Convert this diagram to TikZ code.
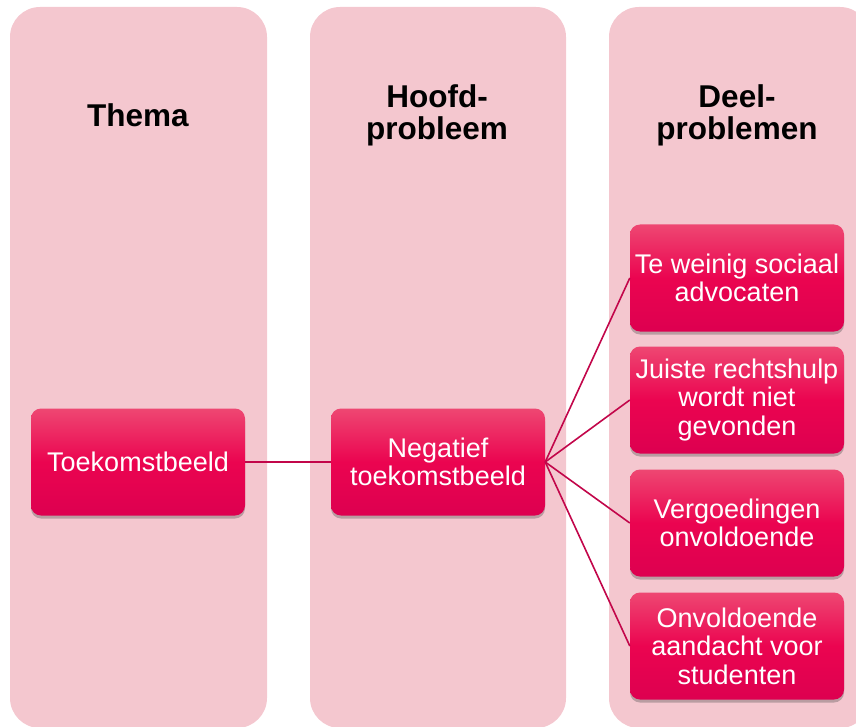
\documentclass[tikz,border=0pt]{standalone}
\usepackage{fontspec}
\setmainfont{Liberation Sans}
\usetikzlibrary{shadows}
\definecolor{colbg}{HTML}{F4C7CF}
\definecolor{boxtop}{HTML}{EE4772}
\definecolor{boxmid}{HTML}{EB0450}
\definecolor{boxbot}{HTML}{DD0050}
\definecolor{link}{HTML}{C2064A}
\begin{document}
\begin{tikzpicture}[x=1pt,y=-1pt,
  colbox/.style={fill=colbg,rounded corners=30pt},
  head/.style={font=\fontsize{31.5}{32}\selectfont\bfseries,align=center,text=black},
  itembox/.style={rounded corners=10pt,minimum width=214pt,minimum height=107pt,
    top color=boxtop,bottom color=boxbot,middle color=boxmid,
    text=white,align=center,inner sep=1pt,
    font=\fontsize{27}{28.5}\selectfont,
    drop shadow={shadow xshift=0pt,shadow yshift=-3pt,opacity=0.35,fill=black!70}},
  linkline/.style={draw=link,line width=1.6pt}]
\useasboundingbox (0,0) rectangle (856,727);
\begin{scope}
\clip (0,0) rectangle (856,727);
\fill[colbox] (10,7) rectangle (267,728);
\fill[colbox] (310,7) rectangle (566,728);
\fill[colbox] (609,7) rectangle (870,728);
\end{scope}
\node[head] (h1) at (138,115) {Thema};
\node[head] (h2) at (437,115) {Hoofd-\\probleem};
\node[head] (h3) at (737,115) {Deel-\\problemen};
\node[itembox] (a) at (138,462) {Toekomstbeeld};
\node[itembox] (b) at (438,462) {Negatief\\toekomstbeeld};
\node[itembox] (c1) at (737,278) {Te weinig sociaal\\advocaten};
\node[itembox] (c2) at (737,400) {Juiste rechtshulp\\wordt niet\\gevonden};
\node[itembox] (c3) at (737,523) {Vergoedingen\\onvoldoende};
\node[itembox] (c4) at (737,646) {Onvoldoende\\aandacht voor\\studenten};
\draw[linkline] (a.east) -- (b.west);
\foreach \t in {c1,c2,c3,c4} \draw[linkline] (b.east) -- (\t.west);
\end{tikzpicture}
\end{document}
